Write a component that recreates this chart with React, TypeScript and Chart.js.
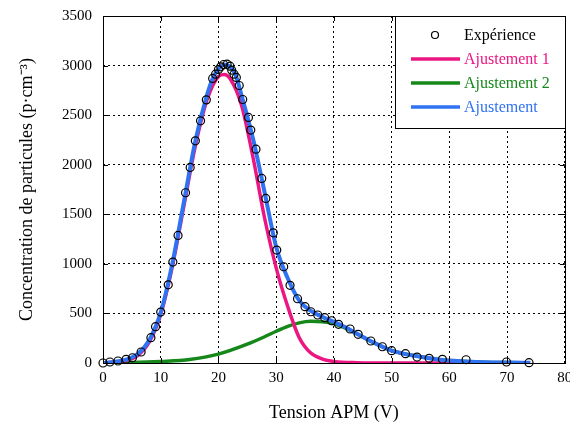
import { useEffect, useRef } from 'react';
import { Chart, registerables } from 'chart.js';

Chart.register(...registerables);

// Experimental data
const expV = [0, 1.2, 2.6, 4.0, 5.1, 6.6, 8.3, 9.1, 10.0, 11.3, 12.1, 13.0, 14.3, 15.1, 16.0, 16.9, 17.9, 19.0, 19.5, 20.0, 20.4, 20.9, 21.5, 22.0, 22.3, 22.7, 23.1, 23.6, 24.2, 25.2, 25.6, 26.5, 27.5, 28.2, 29.5, 30.1, 31.3, 32.4, 33.7, 35.0, 36.0, 37.2, 38.4, 39.6, 40.8, 42.8, 44.2, 46.4, 48.4, 50.0, 52.4, 54.4, 56.5, 58.8, 62.9, 69.9, 73.8];
const expC = [0, 10, 20, 37, 53, 111, 255, 366, 514, 789, 1018, 1287, 1717, 1973, 2241, 2443, 2654, 2870, 2913, 2960, 2987, 3011, 3014, 2994, 2954, 2913, 2880, 2799, 2658, 2477, 2349, 2157, 1862, 1660, 1313, 1139, 971, 783, 648, 568, 517, 484, 457, 426, 390, 343, 289, 222, 164, 124, 94, 60, 47, 37, 33, 10, 3];

// Total fit (Ajustement)
const fitV = [0, 2, 4, 6, 8, 10, 12, 14, 16, 18, 19, 20, 21, 22, 23, 24, 26, 28, 30, 32, 34, 36, 38, 40, 42, 44, 46, 48, 50, 52, 55, 58, 62, 66, 70, 74];
const fitC = [0, 12, 35, 90, 230, 510, 1000, 1620, 2240, 2700, 2870, 2965, 3010, 2990, 2900, 2700, 2260, 1720, 1170, 855, 630, 525, 465, 415, 360, 295, 232, 175, 125, 95, 62, 35, 17, 8, 4, 2];

// Ajustement 1
const fit1V = [0, 4, 6, 8, 10, 12, 14, 16, 18, 20, 21, 22, 24, 26, 28, 30, 32, 34, 36, 38, 40, 44, 50, 60, 74];
const fit1C = [0, 25, 75, 210, 490, 970, 1580, 2190, 2650, 2890, 2910, 2870, 2600, 2070, 1460, 960, 570, 255, 100, 40, 15, 3, 0, 0, 0];

// Ajustement 2
const fit2V = [0, 5, 10, 15, 20, 25, 28, 30, 32, 34, 36, 38, 40, 42, 44, 46, 48, 50, 52, 55, 58, 62, 66, 70, 74];
const fit2C = [0, 4, 15, 35, 90, 190, 265, 320, 370, 405, 420, 415, 395, 352, 292, 230, 175, 125, 95, 62, 35, 17, 8, 4, 2];

const xTicks = [0, 10, 20, 30, 40, 50, 60, 70, 80];
const yTicks = [0, 500, 1000, 1500, 2000, 2500, 3000, 3500];

const legendLabels = ['Expérience', 'Ajustement 1', 'Ajustement 2', 'Ajustement'];
const xTitle = 'Tension APM (V)';
const yTitle = 'Concentration de particules (p·cm⁻³)';

const BLUE = '#2f72f2';
const MAGENTA = '#ec1682';
const GREEN = '#16881a';
const FONT = "'Liberation Serif', 'Times New Roman', serif";

const pts = (xs: number[], ys: number[]) => xs.map((x, i) => ({ x, y: ys[i] }));

const framePlugin = {
  id: 'frameAndLegend',
  afterDraw(chart: any) {
    const ctx = chart.ctx as CanvasRenderingContext2D;
    const a = chart.chartArea;
    const xs = chart.scales.x;
    const ys = chart.scales.y;
    ctx.save();
    ctx.strokeStyle = '#000';
    ctx.lineWidth = 1;
    ctx.setLineDash([]);
    ctx.strokeRect(Math.round(a.left) + 0.5, Math.round(a.top) + 0.5, Math.round(a.right - a.left), Math.round(a.bottom - a.top));
    ctx.beginPath();
    xTicks.forEach((v) => {
      const p = Math.round(xs.getPixelForValue(v)) + 0.5;
      ctx.moveTo(p, a.bottom); ctx.lineTo(p, a.bottom - 5);
      ctx.moveTo(p, a.top); ctx.lineTo(p, a.top + 5);
    });
    yTicks.forEach((v) => {
      const p = Math.round(ys.getPixelForValue(v)) + 0.5;
      ctx.moveTo(a.left, p); ctx.lineTo(a.left + 5, p);
      ctx.moveTo(a.right, p); ctx.lineTo(a.right - 5, p);
    });
    ctx.stroke();

    // legend
    const bw = 170, bh = 112;
    const bx = Math.round(a.right) - bw, by = Math.round(a.top);
    ctx.fillStyle = '#fff';
    ctx.fillRect(bx, by, bw, bh);
    ctx.strokeStyle = '#000';
    ctx.lineWidth = 1;
    ctx.strokeRect(bx + 0.5, by + 0.5, bw, bh);
    const rows = [19, 43, 67, 91];
    const colors = ['#000', MAGENTA, GREEN, BLUE];
    ctx.font = `16px ${FONT}`;
    ctx.textBaseline = 'middle';
    ctx.textAlign = 'left';
    rows.forEach((r, i) => {
      const y = by + r;
      if (i === 0) {
        ctx.beginPath();
        ctx.arc(bx + 40, y, 3.5, 0, Math.PI * 2);
        ctx.strokeStyle = '#000';
        ctx.lineWidth = 1.2;
        ctx.stroke();
      } else {
        ctx.beginPath();
        ctx.moveTo(bx + 16, y);
        ctx.lineTo(bx + 65, y);
        ctx.strokeStyle = colors[i];
        ctx.lineWidth = 3.5;
        ctx.stroke();
      }
      ctx.fillStyle = colors[i];
      ctx.fillText(legendLabels[i], bx + 69, y + 1);
    });
    ctx.restore();
  },
};

export default function App() {
  const ref = useRef<HTMLCanvasElement | null>(null);
  useEffect(() => {
    if (!ref.current) return;
    const chart = new Chart(ref.current, {
      type: 'line',
      data: {
        datasets: [
          {
            label: legendLabels[0],
            data: pts(expV, expC),
            showLine: false,
            pointRadius: 4,
            pointBorderWidth: 1.2,
            pointBorderColor: '#000',
            pointBackgroundColor: 'rgba(0,0,0,0)',
            borderColor: '#000',
            clip: false as any,
          },
          {
            label: legendLabels[3],
            data: pts(fitV, fitC),
            borderColor: BLUE,
            borderWidth: 4,
            pointRadius: 0,
            cubicInterpolationMode: 'monotone',
          },
          {
            label: legendLabels[1],
            data: pts(fit1V, fit1C),
            borderColor: MAGENTA,
            borderWidth: 3.5,
            pointRadius: 0,
            cubicInterpolationMode: 'monotone',
          },
          {
            label: legendLabels[2],
            data: pts(fit2V, fit2C),
            borderColor: GREEN,
            borderWidth: 3.5,
            pointRadius: 0,
            cubicInterpolationMode: 'monotone',
          },
        ],
      },
      options: {
        responsive: false,
        animation: false,
        layout: { padding: { top: 16, right: 5, left: 0, bottom: 0 } },
        plugins: { legend: { display: false }, tooltip: { enabled: false } },
        scales: {
          x: {
            type: 'linear',
            min: 0,
            max: 80,
            afterBuildTicks: (s: any) => { s.ticks = xTicks.map((v) => ({ value: v })); },
            ticks: { color: '#000', font: { family: FONT, size: 15 }, padding: 6, maxRotation: 0, callback: (v: any) => String(v) },
            grid: { color: '#000', lineWidth: 1, drawTicks: false },
            border: { display: false, dash: [2, 3] },
            title: { display: true, text: xTitle, color: '#000', font: { family: FONT, size: 18 }, padding: { top: 0, bottom: 3 } },
            afterFit: (s: any) => { s.height = 64; s.paddingLeft = 0; s.paddingRight = 0; },
          },
          y: {
            type: 'linear',
            min: 0,
            max: 3500,
            afterBuildTicks: (s: any) => { s.ticks = yTicks.map((v) => ({ value: v })); },
            ticks: { color: '#000', font: { family: FONT, size: 15 }, padding: 11, callback: (v: any) => String(v) },
            grid: { color: '#000', lineWidth: 1, drawTicks: false },
            border: { display: false, dash: [2, 3] },
            title: { display: true, text: yTitle, color: '#000', font: { family: FONT, size: 18 }, padding: { top: 16, bottom: 0 } },
            afterFit: (s: any) => { s.width = 103; s.paddingTop = 0; s.paddingBottom = 0; },
          },
        },
      },
      plugins: [framePlugin],
    } as any);
    return () => chart.destroy();
  }, []);
  return (
    <div style={{ position: 'absolute', left: 0, top: 0, width: 570, height: 427, background: '#fff' }}>
      <canvas ref={ref} width={570} height={427} style={{ display: 'block' }} />
    </div>
  );
}
